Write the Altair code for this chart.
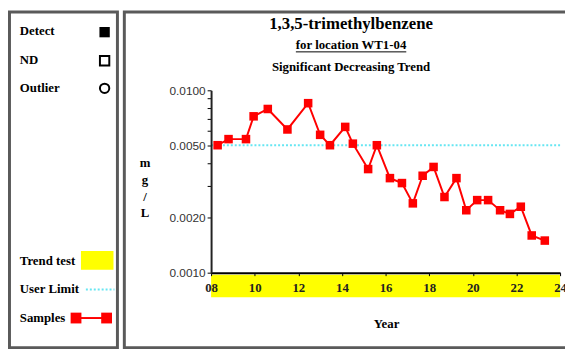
import altair as alt
import pandas as pd

# ---- data ----
years = [2008.3, 2008.8, 2009.6, 2009.95, 2010.6, 2011.5, 2012.45, 2013.0, 2013.45,
         2014.15, 2014.5, 2015.2, 2015.6, 2016.2, 2016.75, 2017.25, 2017.7, 2018.2,
         2018.7, 2019.25, 2019.7, 2020.2, 2020.7, 2021.25, 2021.7, 2022.2, 2022.7, 2023.3]
values = [0.0050, 0.0054, 0.0054, 0.0072, 0.0079, 0.0061, 0.0085, 0.0057, 0.0050,
          0.0063, 0.0051, 0.0037, 0.0050, 0.0033, 0.0031, 0.0024, 0.0034, 0.0038,
          0.0026, 0.0033, 0.0022, 0.0025, 0.0025, 0.0022, 0.0021, 0.0023, 0.0016, 0.0015]
user_limit = 0.005
y_tick_values = [0.001, 0.002, 0.003, 0.004, 0.005, 0.006, 0.007, 0.008, 0.009, 0.01]
y_label_values = [0.001, 0.002, 0.005, 0.01]
x_tick_values = list(range(2008, 2025))
x_domain = [2008, 2024]
y_domain = [0.001, 0.01]

title_main = "1,3,5-trimethylbenzene"
title_loc = "for location WT1-04"
title_trend = "Significant Decreasing Trend"
y_title_letters = ["m", "g", "/", "L"]
x_title = "Year"
legend_top = ["Detect", "ND", "Outlier"]
legend_bottom = ["Trend test", "User Limit", "Samples"]

# ---- layout (page pixels) ----
OX, OY = 214, 89          # plot origin on page
W, H = 354, 185           # plot area
SERIF = "Liberation Serif"
SANS = "Liberation Sans"


def px(x):
    return x - OX


def py(y):
    return y - OY


one = alt.Data(values=[{}])
df = pd.DataFrame({"year": years, "value": values})

xs = alt.Scale(domain=x_domain, nice=False, zero=False)
ys = alt.Scale(type="log", domain=y_domain, nice=False)

xaxis = alt.Axis(
    values=x_tick_values, title=None, grid=False,
    labelExpr="datum.value % 2 == 0 ? ((datum.value - 2000) < 10 ? '0' : '') + (datum.value - 2000) : ''",
    labelFont=SERIF, labelFontSize=13, labelFontWeight="bold", labelColor="#222",
    labelPadding=6, labelFlush=False, labelOverlap=False,
    tickSize=3, tickColor="black", domainColor="black", domainWidth=2, zindex=1,
)
yaxis = alt.Axis(
    values=y_tick_values, title=None, grid=False,
    labelExpr="indexof([0.001, 0.002, 0.005, 0.01], datum.value) >= 0 ? format(datum.value, '.4f') : ''",
    labelFont=SANS, labelFontSize=12, labelColor="#333",
    labelPadding=2, labelOverlap=False, labelFlush=False,
    tickSize=4, tickColor="black", domainColor="#222", domainWidth=2, zindex=1,
)

band = alt.Chart(one).mark_rect(color="#ffff00").encode(
    x=alt.value(px(214)), x2=alt.value(px(568)), y=alt.value(py(276)), y2=alt.value(py(299)))

limit = alt.Chart(one).mark_rule(color="#66e6f2", strokeDash=[2, 2], strokeWidth=2).encode(
    y=alt.datum(user_limit, scale=ys), x=alt.value(0), x2=alt.value(W))

line = alt.Chart(df).mark_line(color="#ff0000", strokeWidth=2).encode(
    x=alt.X("year:Q", scale=xs, axis=xaxis),
    y=alt.Y("value:Q", scale=ys, axis=yaxis))
pts = alt.Chart(df).mark_square(color="#ff0000", size=75, opacity=1).encode(
    x=alt.X("year:Q", scale=xs), y=alt.Y("value:Q", scale=ys))


def txt(s, x, y, size=13, align="left", font=SERIF, weight="bold", color="black"):
    return alt.Chart(one).mark_text(
        text=s, align=align, baseline="middle", font=font, fontSize=size,
        fontWeight=weight, color=color).encode(x=alt.value(px(x)), y=alt.value(py(y)))


layers = [band, limit, line, pts]

# titles
layers.append(txt(title_main, 356, 22, size=17, align="center"))
layers.append(txt(title_loc, 356, 43, size=13, align="center"))
layers.append(alt.Chart(one).mark_rule(color="black", strokeWidth=1).encode(
    x=alt.value(px(300)), x2=alt.value(px(412)), y=alt.value(py(50))))
layers.append(txt(title_trend, 356, 65, size=13, align="center"))

# y title stacked letters
for i, (ch, yy) in enumerate(zip(y_title_letters, [163, 180, 197, 214])):
    layers.append(txt(ch, 147, yy, size=13, align="center"))

layers.append(txt(x_title, 392, 326, size=13, align="center"))

# borders
layers.append(alt.Chart(one).mark_rect(fill=None, stroke="#5a5a5a", strokeWidth=3).encode(
    x=alt.value(px(9.5)), x2=alt.value(px(119)), y=alt.value(py(9.5)), y2=alt.value(py(350))))
layers.append(alt.Chart(one).mark_rect(fill=None, stroke="#5a5a5a", strokeWidth=3).encode(
    x=alt.value(px(126)), x2=alt.value(px(590)), y=alt.value(py(9.5)), y2=alt.value(py(350))))

# legend top
for lab, yy in zip(legend_top, [29, 58, 87]):
    layers.append(txt(lab, 20, yy, size=13))
layers.append(alt.Chart(one).mark_square(color="black", size=110, opacity=1).encode(
    x=alt.value(px(106)), y=alt.value(py(30))))
layers.append(alt.Chart(one).mark_square(filled=False, color="black", size=90, strokeWidth=2, opacity=1).encode(
    x=alt.value(px(106)), y=alt.value(py(59))))
layers.append(alt.Chart(one).mark_point(shape="circle", filled=False, color="black", size=90, strokeWidth=2, opacity=1).encode(
    x=alt.value(px(106)), y=alt.value(py(87))))

# legend bottom
for lab, yy in zip(legend_bottom, [262, 291, 320]):
    layers.append(txt(lab, 20, yy, size=13))
layers.append(alt.Chart(one).mark_rect(color="#ffff00").encode(
    x=alt.value(px(82)), x2=alt.value(px(115)), y=alt.value(py(252)), y2=alt.value(py(271))))
layers.append(alt.Chart(one).mark_rule(color="#66e6f2", strokeDash=[2, 2], strokeWidth=2).encode(
    x=alt.value(px(87)), x2=alt.value(px(116)), y=alt.value(py(291))))
layers.append(alt.Chart(one).mark_rule(color="#ff0000", strokeWidth=2).encode(
    x=alt.value(px(77)), x2=alt.value(px(108)), y=alt.value(py(320))))
for xx in [77, 108]:
    layers.append(alt.Chart(one).mark_square(color="#ff0000", size=120, opacity=1).encode(
        x=alt.value(px(xx)), y=alt.value(py(320))))

chart = alt.layer(*layers).properties(
    width=W, height=H,
    padding={"left": OX - 8, "top": OY - 8, "right": 5, "bottom": 355 - 8 - (OY - 8) - H},
    autosize=alt.AutoSizeParams(type="none"),
    background="white",
).configure_view(stroke=None)

chart.save("out.html", embed_options={"renderer": "svg", "actions": False})
